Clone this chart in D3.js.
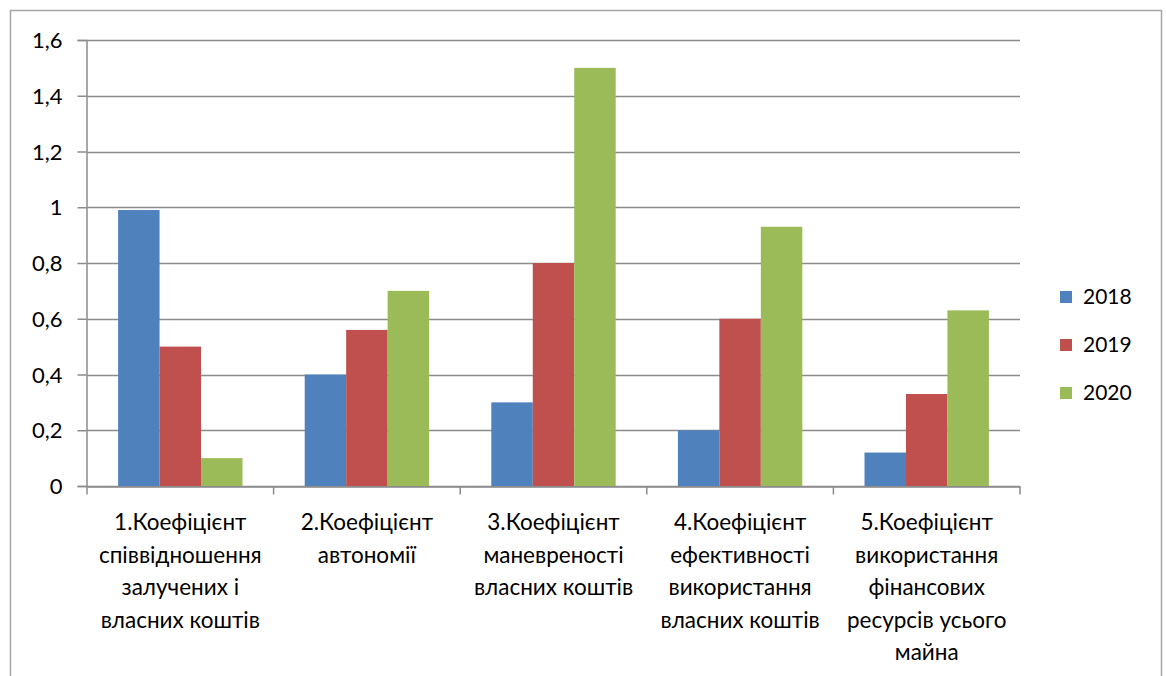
<!DOCTYPE html>
<html>
<head>
<meta charset="utf-8">
<script src="https://cdn.jsdelivr.net/npm/d3@7"></script>
<style>
  html, body { margin: 0; padding: 0; background: #fff; }
  svg { display: block; }
  text { font-family: Lato, "Open Sans", "Liberation Sans", sans-serif; fill: #000; }
</style>
</head>
<body>
<svg id="chart" width="1166" height="676"></svg>
<script>
// Coefficient categories (x axis), each split over lines
const categories = [
  ["1.Коефіцієнт", "співвідношення", "залучених і", "власних коштів"],
  ["2.Коефіцієнт", "автономії"],
  ["3.Коефіцієнт", "маневреності", "власних коштів"],
  ["4.Коефіцієнт", "ефективності", "використання", "власних коштів"],
  ["5.Коефіцієнт", "використання", "фінансових", "ресурсів усього", "майна"]
];
const years = ["2018", "2019", "2020"];
const values2018 = [0.99, 0.40, 0.30, 0.20, 0.12];
const values2019 = [0.50, 0.56, 0.80, 0.60, 0.33];
const values2020 = [0.10, 0.70, 1.50, 0.93, 0.63];
const yTicks = [0, 0.2, 0.4, 0.6, 0.8, 1, 1.2, 1.4, 1.6];
const colors = ["#4f81bd", "#c0504d", "#9bbb59"];

const series = [values2018, values2019, values2020];
const svg = d3.select("#chart");

// Chart frame
svg.append("rect")
  .attr("x", 10.5).attr("y", 10.5)
  .attr("width", 1151).attr("height", 700)
  .attr("fill", "none").attr("stroke", "#a6a6a6").attr("stroke-width", 1.5);

const plot = { left: 87, right: 1020, top: 40, bottom: 486 };

const x = d3.scaleBand()
  .domain(d3.range(categories.length))
  .range([plot.left, plot.right])
  .paddingInner(0).paddingOuter(0);

const xInner = d3.scaleBand()
  .domain(d3.range(years.length))
  .range([0, x.bandwidth()])
  .paddingInner(0).paddingOuter(0.75);

const y = d3.scaleLinear().domain([0, 1.6]).range([plot.bottom, plot.top]);

const fmt = v => String(+v.toFixed(1)).replace(".", ",");

// Horizontal gridlines
svg.append("g")
  .selectAll("line")
  .data(yTicks)
  .join("line")
  .attr("x1", plot.left).attr("x2", plot.right)
  .attr("y1", d => Math.round(y(d)) + 0.5).attr("y2", d => Math.round(y(d)) + 0.5)
  .attr("stroke", "#8c8c8c").attr("stroke-width", 1.5);

// Bars
const groups = svg.append("g")
  .selectAll("g")
  .data(series)
  .join("g")
  .attr("fill", (d, i) => colors[i]);

groups.each(function(vals, si) {
  d3.select(this).selectAll("rect")
    .data(vals)
    .join("rect")
    .attr("x", (d, ci) => x(ci) + xInner(si))
    .attr("width", xInner.bandwidth())
    .attr("y", d => y(d))
    .attr("height", d => y(0) - y(d));
});

// Y axis
const yAxis = svg.append("g")
  .attr("transform", `translate(${plot.left - 0.5},0)`)
  .call(d3.axisLeft(y).tickValues(yTicks).tickFormat(fmt).tickSizeOuter(0).tickSize(9).tickPadding(15));
yAxis.select(".domain").attr("stroke", "#8c8c8c").attr("stroke-width", 1.5);
yAxis.selectAll(".tick line").attr("stroke", "#8c8c8c").attr("stroke-width", 1.5);
yAxis.selectAll(".tick text")
  .attr("font-size", 22).attr("font-family", "Lato, 'Open Sans', sans-serif").attr("fill", "#000")
  .attr("dy", "0.35em");

// X axis
const xAxis = svg.append("g")
  .attr("transform", `translate(0,${Math.round(y(0)) + 0.5})`)
  .call(d3.axisBottom(x).tickValues([]).tickSizeOuter(0));
xAxis.select(".domain").attr("stroke", "#8c8c8c").attr("stroke-width", 1.5);

// Category boundary ticks
const bounds = d3.range(categories.length + 1).map(i => plot.left + i * x.step());
xAxis.selectAll(".bound")
  .data(bounds)
  .join("line")
  .attr("class", "bound")
  .attr("x1", d => d).attr("x2", d => d)
  .attr("y1", 0).attr("y2", 8)
  .attr("stroke", "#8c8c8c").attr("stroke-width", 1.5);

// Category labels
svg.append("g")
  .selectAll("text")
  .data(categories)
  .join("text")
  .attr("text-anchor", "middle")
  .attr("font-size", 22.5)
  .each(function(lines, ci) {
    d3.select(this).selectAll("tspan")
      .data(lines)
      .join("tspan")
      .attr("x", x(ci) + x.bandwidth() / 2)
      .attr("y", (d, li) => 530 + li * 32.5)
      .text(d => d);
  });

// Legend
const legend = svg.append("g")
  .selectAll("g")
  .data(years)
  .join("g")
  .attr("transform", (d, i) => `translate(1060,${297 + i * 48})`);
legend.append("rect")
  .attr("x", 0).attr("y", -6).attr("width", 12).attr("height", 12)
  .attr("fill", (d, i) => colors[i]);
legend.append("text")
  .attr("x", 23).attr("y", 0).attr("dy", "0.35em")
  .attr("font-size", 21)
  .text(d => d);
</script>
</body>
</html>
